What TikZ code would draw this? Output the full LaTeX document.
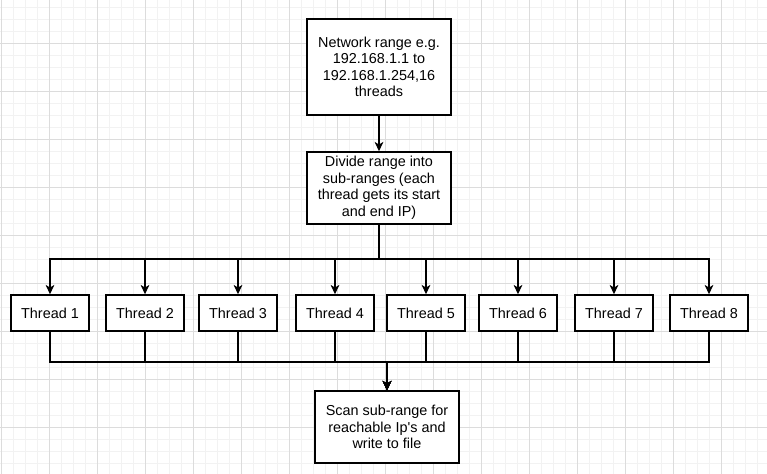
\documentclass[tikz,border=0pt]{standalone}
\usepackage{fontspec}
\setmainfont{Liberation Sans}
\usetikzlibrary{arrows.meta}

\definecolor{gridminor}{HTML}{F2F2F2}
\definecolor{gridmajor}{HTML}{DCDCDC}

\tikzset{
  box/.style={draw, line width=1.1pt, fill=white, align=center, inner sep=0pt,
    font=\fontsize{10.8}{12.4}\selectfont},
  bigbox/.style={box, minimum width=108pt, minimum height=54pt},
  threadbox/.style={box, minimum width=58.5pt, minimum height=27pt},
  link/.style={line width=1.1pt, -{Stealth[length=7pt,width=6.5pt,inset=2pt]}},
}

\begin{document}
\begin{tikzpicture}[x=0.75pt,y=-0.75pt]
\useasboundingbox (0,0) rectangle (767,474);
% grid
\foreach \g in {1,13,...,767} \draw[gridminor, line width=0.5pt] (\g,0) -- (\g,474);
\foreach \g in {7,19,...,474} \draw[gridminor, line width=0.5pt] (0,\g) -- (767,\g);
\foreach \g in {1,49,...,767} \draw[gridmajor, line width=0.6pt] (\g,0) -- (\g,474);
\foreach \g in {43,91,...,474} \draw[gridmajor, line width=0.6pt] (0,\g) -- (767,\g);

\node[bigbox, minimum height=72pt] (net) at (379,67)
  {Network range e.g.\\192.168.1.1 to\\192.168.1.254,16\\threads};
\node[bigbox] (divide) at (379,188)
  {Divide range into\\sub-ranges (each\\thread gets its start\\and end IP)};
\node[bigbox] (scan) at (387,427)
  {Scan sub-range for\\reachable Ip\textquotesingle s and\\write to file};

\foreach \x/\i in {50/1, 145/2, 238/3, 335/4, 426/5, 518/6, 614/7, 709/8}
  \node[threadbox] (t\i) at (\x,313) {Thread \i};

\coordinate (fork) at (379,259);
\coordinate (join) at (387,362);

\draw[link] (net) -- (divide);
\foreach \i in {1,...,8} {
  \draw[link] (divide.south) -- (fork) -| (t\i.north);
  \draw[link] (t\i.south) |- (join) -- (scan.north);
}
\end{tikzpicture}
\end{document}
